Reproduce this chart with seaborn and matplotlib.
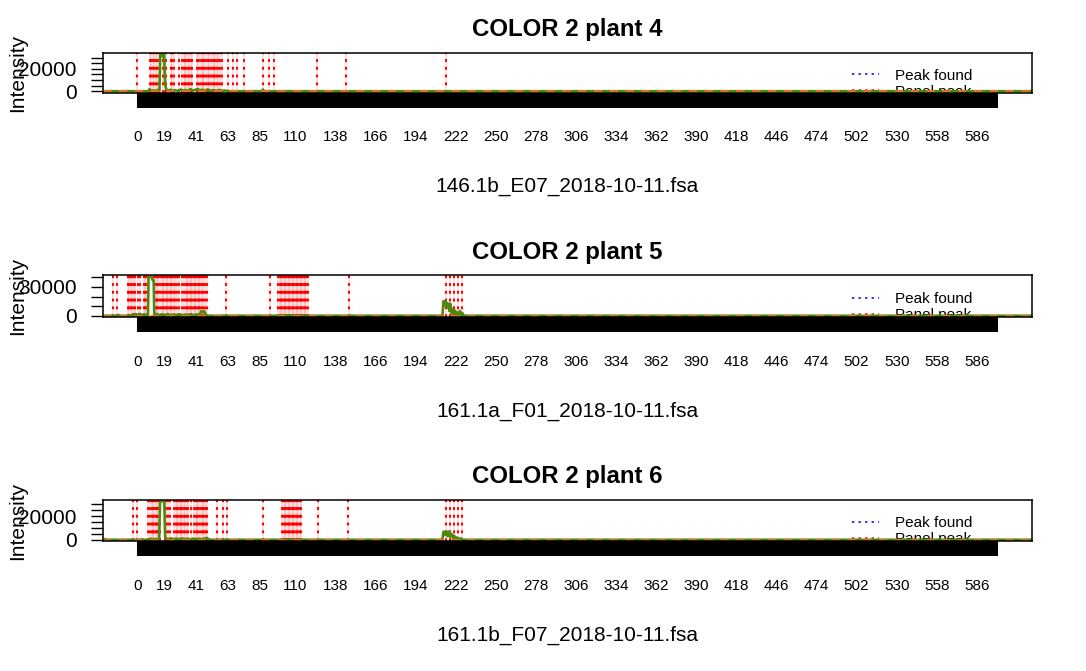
import matplotlib
matplotlib.use("Agg")
import matplotlib.pyplot as plt
from matplotlib.lines import Line2D
import seaborn as sns

# ---------------- data ----------------
titles = ["COLOR 2 plant 4", "COLOR 2 plant 5", "COLOR 2 plant 6"]
file_labels = ["146.1b_E07_2018-10-11.fsa", "161.1a_F01_2018-10-11.fsa", "161.1b_F07_2018-10-11.fsa"]
legend_labels = ["Peak found", "Panel peak"]

x_tick_labels_shown = [0, 19, 41, 63, 85, 110, 138, 166, 194, 222, 250, 278, 306, 334,
                       362, 390, 418, 446, 474, 502, 530, 558, 586]
y_ticks_p1 = [0, 5000, 10000, 15000, 20000, 25000, 30000]
y_labels_p1 = ["0", "", "", "", "20000", "", ""]
y_ticks_p2 = [0, 10000, 20000, 30000, 40000]
y_labels_p2 = ["0", "", "", "30000", ""]
y_ticks_p3 = [0, 5000, 10000, 15000, 20000, 25000, 30000]
y_labels_p3 = ["0", "", "", "", "20000", "", ""]

# intensity traces
trace1_x = [-30, 7.5, 8.2, 8.8, 9.6, 11, 12, 13, 14.2, 15.2, 15.8, 16.6, 17.6, 18.4, 19.2, 20,
            21.5, 23, 24, 26, 28, 30, 31.5, 33, 35, 37, 38.5, 40, 42, 43.5, 45, 47, 49, 51,
            53, 55, 57, 59, 61, 64, 86.5, 87.5, 88.5, 640]
trace1_y = [0, 0, 1800, 300, 900, 400, 700, 300, 1200, 0, 33000, 33000, 31000, 33000, 6000, 1500,
            600, 1300, 400, 900, 300, 1500, 500, 1000, 600, 1800, 400, 1100, 2000, 600, 1400, 500, 1600, 400,
            900, 300, 1100, 400, 600, 0, 0, 1500, 0, 0]

trace2_x = [-30, -14, -13.4, -12.8, -4, -3.3, -2.5, -1.5, 0, 1.5, 3, 4.5, 6, 7.2, 7.6, 9.8, 10.3,
            11.2, 11.6, 12.5, 13.5, 15, 17, 19, 21, 23, 25, 27, 29, 31, 33, 35, 37, 39, 41, 42.5,
            43.5, 44.5, 45.5, 46.5, 47.5, 48.5, 98, 100, 101, 102, 103.5, 105, 106, 107.5, 109, 110,
            212.8, 213.6, 214.4, 215.2, 216, 216.8, 217.6, 218.4, 219.4, 220.2, 221, 221.8, 222.6,
            223.4, 224.2, 225, 225.8, 226.6, 227.4, 228.5, 640]
trace2_y = [0, 0, 900, 0, 0, 1600, 500, 1800, 700, 2000, 600, 1500, 900, 0, 40500, 40500, 37500,
            37000, 3000, 1200, 1800, 600, 1500, 700, 1800, 500, 1300, 800, 1600, 500, 1200, 900, 1700, 600, 1400, 1000,
            2200, 4900, 3500, 4800, 1500, 0, 0, 600, 0, 700, 0, 600, 0, 500, 0, 0,
            0, 15300, 11000, 15000, 9000, 12800, 5000, 12500, 2000, 6600, 1500, 5200, 1000,
            3100, 800, 5000, 700, 3000, 500, 0, 0]

trace3_x = [-30, -25, -24.3, -23.5, -22.8, -22, 2, 3, 4, 8, 9, 10.5, 12, 13.5, 15, 15.6, 16.2,
            18.6, 19.2, 20, 21.5, 23, 25, 27, 29, 31, 33, 35, 37, 39, 41, 43, 45, 47, 48.5, 50,
            212.8, 213.6, 214.6, 215.6, 216.4, 217.4, 218.2, 219.2, 220.2, 221, 222, 223, 224,
            225.5, 227, 640]
trace3_y = [0, 0, 700, 0, 600, 0, 0, 500, 0, 0, 900, 300, 700, 200, 600, 31000, 32500,
            32500, 2500, 900, 400, 1200, 500, 900, 400, 1100, 600, 800, 300, 1000, 500, 900, 400, 1200, 1500, 0,
            0, 6900, 4000, 7200, 3000, 7000, 2500, 4900, 1500, 3500, 800, 2000, 500,
            1200, 0, 0]

# panel peaks (red dotted verticals)
panel_peaks_1 = [-0.7, 8.6, 9.5, 10.5, 11.6, 12.6, 13.5, 14.6, 17.4, 19.1, 20.0, 23.3, 24.2, 25.6,
                 28.8, 31.2, 32.1, 33.0, 34.0, 35.1, 36.1, 37.2, 38.2, 41.4, 42.3, 43.5, 44.7, 45.6,
                 46.5, 47.9, 48.9, 49.8, 51.2, 52.4, 53.1, 54.2, 55.1, 56.3, 57.5, 58.6, 62.8, 66.8,
                 69.3, 74.0, 87.5, 91.4, 94.9, 125.2, 145.2, 215.1]
panel_peaks_2 = [-17.3, -14.5, -7.0, -5.8, -4.7, -3.7, -2.8, -1.9, 0.0, 1.8, 4.2, 5.1, 6.0, 7.4,
                 11.6, 12.6, 13.5, 14.4, 15.6, 16.7, 17.7, 18.6, 19.5, 20.5, 21.4, 22.3, 23.3, 24.2,
                 25.1, 26.1, 27.2, 28.8, 30.7, 32.6, 33.5, 34.4, 35.4, 36.3, 37.2, 38.2, 39.1, 40.0,
                 40.9, 41.9, 42.8, 43.7, 44.7, 45.8, 47.0, 48.4, 61.4, 92.6, 98.2, 99.2, 100.1,
                 101.0, 101.9, 102.9, 103.8, 104.7, 105.7, 106.6, 107.5, 108.5, 109.4, 110.3, 111.2,
                 112.2, 113.1, 114.0, 115.0, 115.9, 116.8, 117.8, 118.7, 147.6, 215.1, 217.9, 220.6,
                 223.4, 226.2]
panel_peaks_3 = [-3.1, -0.3, 7.4, 8.8, 9.8, 10.7, 11.6, 12.6, 13.5, 14.4, 15.8, 19.1, 20.0, 21.4,
                 22.6, 25.1, 26.5, 27.4, 28.4, 29.3, 30.2, 31.2, 32.1, 33.0, 34.2, 35.4, 37.2, 39.1,
                 40.5, 41.4, 42.3, 43.7, 44.7, 45.6, 46.5, 47.5, 48.2, 55.1, 59.3, 62.1, 87.5, 101.0,
                 101.9, 102.9, 103.8, 104.7, 105.7, 106.6, 107.5, 108.5, 109.4, 110.3, 111.2, 112.2,
                 113.1, 114.0, 125.7, 146.9, 215.1, 217.9, 221.1, 223.9, 226.7]
baseline_level = [150]

panels = [
    (trace1_x, trace1_y, panel_peaks_1, y_ticks_p1, y_labels_p1),
    (trace2_x, trace2_y, panel_peaks_2, y_ticks_p2, y_labels_p2),
    (trace3_x, trace3_y, panel_peaks_3, y_ticks_p3, y_labels_p3),
]

# ---------------- style ----------------
sns.set_style("white")
plt.rcParams["font.family"] = ["Liberation Sans", "DejaVu Sans"]
plt.rcParams["lines.scale_dashes"] = False
for k in ["text.color", "axes.labelcolor", "xtick.color", "ytick.color", "axes.edgecolor"]:
    plt.rcParams[k] = "black"

W, H = 1086, 671
fig = plt.figure(figsize=(W / 100, H / 100), dpi=100)

box_left, box_right = 103, 1032
tops = [52.7, 275.3, 499.7]
bottoms = [92.7, 317.3, 541.3]
xlim = (-24.2, 624.5)
green = "#4B8A0C"
orange = "#DC7428"
dot = (0, (2.0, 3.6))

x_ticks = list(range(0, 601))
shown = set(x_tick_labels_shown)
x_tick_text = [str(v) if v in shown else "" for v in x_ticks]

for i, (tx, ty, peaks, yt, yl) in enumerate(panels):
    t, b = tops[i], bottoms[i]
    ax = fig.add_axes([box_left / W, 1 - b / H, (box_right - box_left) / W, (b - t) / H])
    ymax = max(ty)
    ymin = min(ty)
    d = ymax - ymin
    ax.set_xlim(*xlim)
    ax.set_ylim(ymin - 0.04 * d, ymax + 0.04 * d)

    for xv in peaks:
        ax.axvline(xv, color="red", alpha=0.14, lw=1.3, zorder=1)
        ax.axvline(xv, color="red", lw=1.5, ls=dot, zorder=1.2)

    sns.lineplot(x=tx, y=ty, ax=ax, color=green, linewidth=1.9, estimator=None,
                 sort=False, legend=False, zorder=3)
    ax.axhline(baseline_level[0], color=orange, lw=1.5, ls=(0, (6.0, 5.4)), zorder=4)

    handles = [Line2D([], [], color="blue", lw=1.1, ls=(0, (1.7, 3.0))),
               Line2D([], [], color="red", lw=1.1, ls=(0, (1.7, 3.0)))]
    leg = ax.legend(handles, legend_labels, loc="upper left", bbox_to_anchor=(0.806, 0.6),
                    frameon=False, fontsize=11, borderpad=0, borderaxespad=0,
                    handlelength=1.75, handletextpad=1.1, labelspacing=0.12)
    leg.set_zorder(2)

    ax.set_xticks(x_ticks)
    ax.set_xticklabels(x_tick_text)
    ax.set_yticks(yt)
    ax.set_yticklabels(yl)
    ax.tick_params(axis="x", length=10.6, width=1.5, pad=16.5, labelsize=11,
                   direction="out", color="black", bottom=True)
    ax.tick_params(axis="y", length=8.6, width=1.0, pad=10.5, labelsize=15,
                   direction="out", color="black", left=True)
    ax.xaxis.set_zorder(10)
    for s in ax.spines.values():
        s.set_color("black")
        s.set_linewidth(1.1)
        s.set_zorder(9)

    ax.set_title(titles[i], fontsize=17.3, fontweight="bold", pad=12)
    ax.set_ylabel("Intensity", fontsize=15)
    ax.yaxis.set_label_coords(27 / W, 1 - (t + b) / 2 / H, transform=fig.transFigure)
    ax.set_xlabel(file_labels[i], fontsize=15)
    ax.xaxis.set_label_coords(567 / W, 1 - (b + 84) / H, transform=fig.transFigure)

fig.savefig("out.png", dpi=100, facecolor="white")
